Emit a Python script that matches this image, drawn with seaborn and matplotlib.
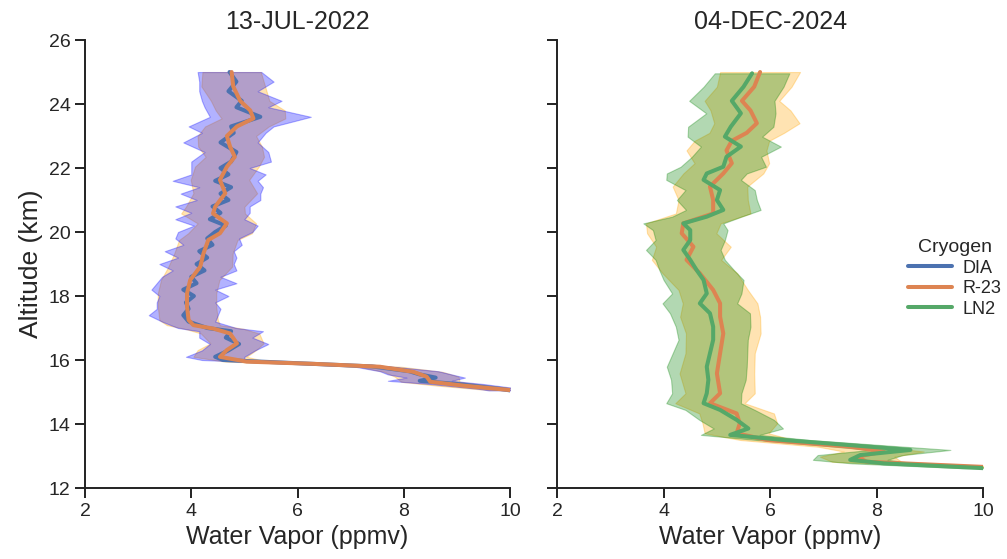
import matplotlib
matplotlib.use("Agg")
import matplotlib.pyplot as plt
import numpy as np
import pandas as pd
import seaborn as sns
from matplotlib.lines import Line2D

# ---------------- data ----------------
titles = ["13-JUL-2022", "04-DEC-2024"]
cryogens = ["DIA", "R-23", "LN2"]

# Left panel: DIA
dia_alt = [25.0, 24.7, 24.4, 24.1, 23.9, 23.6, 23.3, 23.1, 22.8, 22.5, 22.2, 22.0,
           21.8, 21.6, 21.4, 21.2, 21.0, 20.8, 20.6, 20.4, 20.2, 20.0, 19.8, 19.6,
           19.4, 19.2, 19.0, 18.8, 18.6, 18.4, 18.2, 18.0, 17.8, 17.6, 17.4, 17.2,
           17.0, 16.9, 16.7, 16.5, 16.3, 16.1, 16.0, 15.9, 15.8, 15.65, 15.55, 15.45,
           15.35, 15.25, 15.1, 15.05]
dia_val = [4.72, 4.85, 4.70, 4.95, 4.85, 5.30, 4.75, 4.80, 4.55, 4.85, 4.75, 4.55,
           4.70, 4.45, 4.75, 4.55, 4.70, 4.40, 4.55, 4.35, 4.65, 4.45, 4.30, 4.40,
           4.15, 4.30, 4.10, 4.25, 4.00, 4.10, 3.85, 4.05, 3.90, 3.95, 3.85, 3.95,
           4.30, 4.75, 4.65, 4.90, 4.70, 4.45, 4.60, 6.00, 7.40, 8.10, 8.30, 8.60,
           8.30, 9.00, 9.80, 10.0]
dia_err = [0.60, 0.70, 0.55, 0.75, 0.60, 0.95, 0.80, 0.60, 0.70, 0.60, 0.75, 0.55,
           0.70, 0.80, 0.60, 0.75, 0.60, 0.70, 0.55, 0.65, 0.60, 0.70, 0.60, 0.55,
           0.65, 0.55, 0.70, 0.60, 0.55, 0.75, 0.60, 0.65, 0.55, 0.60, 0.65, 0.50,
           0.55, 0.60, 0.50, 0.55, 0.50, 0.55, 0.40, 0.30, 0.35, 0.55, 0.60, 0.55,
           0.60, 0.50, 0.40, 0.40]

# Left panel: R-23
r23a_alt = [25.0, 24.55, 24.1, 23.8, 23.55, 23.3, 23.0, 22.67, 22.35, 22.04, 21.63,
            21.21, 20.79, 20.58, 20.27, 19.96, 19.75, 19.33, 18.92, 18.5, 18.08,
            17.67, 17.25, 17.09, 16.98, 16.83, 16.52, 16.31, 16.1, 15.95, 15.88,
            15.79, 15.63, 15.48, 15.32, 15.2, 15.06]
r23a_val = [4.76, 4.79, 4.92, 5.11, 5.17, 4.86, 4.67, 4.73, 4.82, 4.67, 4.54,
            4.64, 4.45, 4.41, 4.67, 4.54, 4.32, 4.23, 4.17, 3.98, 3.92,
            3.92, 3.95, 4.04, 4.42, 4.73, 4.86, 4.67, 4.54, 5.04, 6.30,
            7.55, 8.18, 8.43, 8.50, 9.12, 10.0]
r23a_err = [0.55, 0.60, 0.55, 0.65, 0.60, 0.60, 0.55, 0.60, 0.55, 0.60, 0.55,
            0.60, 0.55, 0.60, 0.55, 0.60, 0.55, 0.55, 0.60, 0.55, 0.55,
            0.55, 0.55, 0.50, 0.55, 0.55, 0.50, 0.55, 0.50, 0.40, 0.30,
            0.40, 0.55, 0.60, 0.55, 0.50, 0.40]

# Right panel: R-23
r23b_alt = [25.0, 24.54, 24.1, 23.8, 23.4, 23.1, 22.85, 22.55, 22.15, 21.83, 21.42,
            21.0, 20.58, 20.27, 19.96, 19.54, 19.13, 18.71, 18.19, 17.77, 17.35,
            16.83, 16.21, 15.58, 14.96, 14.65, 14.33, 14.02, 13.71, 13.5, 13.29,
            13.14, 12.98, 12.82, 12.66]
r23b_val = [5.81, 5.70, 5.47, 5.63, 5.75, 5.56, 5.28, 5.18, 5.28, 5.12, 4.87,
            4.93, 4.93, 4.37, 4.34, 4.56, 4.43, 4.68, 4.93, 5.06, 5.06,
            5.12, 5.06, 5.00, 5.06, 4.87, 5.37, 5.43, 5.37, 5.94, 7.50,
            8.13, 7.63, 7.81, 10.0]
r23b_err = [0.75, 0.70, 0.70, 0.75, 0.80, 0.70, 0.70, 0.75, 0.70, 0.75, 0.70,
            0.65, 0.70, 0.70, 0.65, 0.70, 0.65, 0.70, 0.65, 0.70, 0.75,
            0.70, 0.65, 0.70, 0.65, 0.65, 0.70, 0.70, 0.60, 0.50, 0.60,
            0.75, 0.70, 0.65, 0.40]

# Right panel: LN2
ln2_alt = [24.96, 24.54, 24.1, 23.71, 23.29, 22.98, 22.67, 22.35, 22.04, 21.83,
           21.63, 21.31, 21.0, 20.69, 20.48, 20.27, 20.06, 19.75, 19.44, 19.13,
           18.81, 18.5, 18.08, 17.77, 17.46, 17.04, 16.63, 16.21, 15.79, 15.38,
           14.96, 14.65, 14.44, 14.13, 13.86, 13.66, 13.5, 13.34, 13.19, 13.03,
           12.88, 12.77, 12.62]
ln2_val = [5.66, 5.50, 5.28, 5.45, 5.26, 5.15, 5.45, 5.18, 5.12, 4.81,
           4.75, 5.06, 5.00, 5.12, 4.81, 4.37, 4.50, 4.50, 4.37, 4.50,
           4.62, 4.75, 4.81, 4.68, 4.87, 4.93, 4.93, 4.87, 4.81, 4.84,
           4.81, 4.75, 5.06, 5.37, 5.59, 5.25, 6.25, 7.50, 8.63, 7.69,
           7.50, 8.13, 10.0]
ln2_err = [0.70, 0.75, 0.80, 0.65, 0.80, 0.70, 0.75, 0.65, 0.80, 0.75,
           0.70, 0.65, 0.75, 0.70, 0.65, 0.75, 0.70, 0.65, 0.70, 0.65,
           0.70, 0.75, 0.65, 0.70, 0.75, 0.70, 0.65, 0.70, 0.75, 0.70,
           0.65, 0.70, 0.65, 0.70, 0.65, 0.55, 0.50, 0.60, 0.75, 0.80,
           0.70, 0.60, 0.40]

x_ticks = [2, 4, 6, 8, 10]
y_ticks = [12, 14, 16, 18, 20, 22, 24, 26]

# ---------------- style ----------------
sns.set_theme(style="ticks")
plt.rcParams['font.family'] = ['Liberation Sans', 'DejaVu Sans']

line_colors = {"DIA": "#4c72b0", "R-23": "#dd8452", "LN2": "#55a868"}
band_colors = {"DIA": "blue", "R-23": "orange", "LN2": "green"}

panels = [
    [("R-23", r23a_alt, r23a_val, r23a_err), ("DIA", dia_alt, dia_val, dia_err)],
    [("R-23", r23b_alt, r23b_val, r23b_err), ("LN2", ln2_alt, ln2_val, ln2_err)],
]
line_order = [["DIA", "R-23"], ["R-23", "LN2"]]

fig = plt.figure(figsize=(10.07, 5.59), dpi=100)
ax1 = fig.add_axes([0.0844, 0.127, 0.4221, 0.8014])
ax2 = fig.add_axes([0.5531, 0.127, 0.4235, 0.8014], sharey=ax1)
axes = [ax1, ax2]

for ax, title, series, order in zip(axes, titles, panels, line_order):
    sdict = {}
    for name, alt, val, err in series:
        a = np.array(alt); v = np.array(val); e = np.array(err)
        ax.fill_betweenx(a, v - e, v + e, color=band_colors[name], alpha=0.3,
                         linewidth=0.8, edgecolor=band_colors[name])
        sdict[name] = pd.DataFrame({"alt": a, "vapor": v, "cryogen": name})
    for name in order:
        sns.lineplot(data=sdict[name], x="vapor", y="alt", orient="y",
                     color=line_colors[name], linewidth=2.9, ax=ax,
                     errorbar=None, legend=False)
    ax.set_xlim(2, 10)
    ax.set_ylim(12, 26)
    ax.set_xticks(x_ticks)
    ax.set_yticks(y_ticks)
    ax.set_title(title, fontsize=18, pad=8)
    ax.set_xlabel("Water Vapor (ppmv)", fontsize=18)
    ax.set_ylabel("")
    ax.tick_params(axis="both", labelsize=14, length=7, width=1.4, color="#222222")
    for sp in ["left", "bottom"]:
        ax.spines[sp].set_linewidth(1.4)
        ax.spines[sp].set_color("#222222")
    sns.despine(ax=ax)

ax1.set_ylabel("Altitude (km)", fontsize=19)
plt.setp(ax2.get_yticklabels(), visible=False)

handles = [Line2D([0], [0], color=line_colors[c], lw=2.9) for c in cryogens]
fig.legend(handles, cryogens, title="Cryogen", loc="center right",
           bbox_to_anchor=(0.998, 0.502), frameon=False, fontsize=13,
           title_fontsize=14, handlelength=2.4, labelspacing=0.2,
           handletextpad=0.6, borderaxespad=0.0, borderpad=0.2)

fig.savefig("out.png", dpi=100)
